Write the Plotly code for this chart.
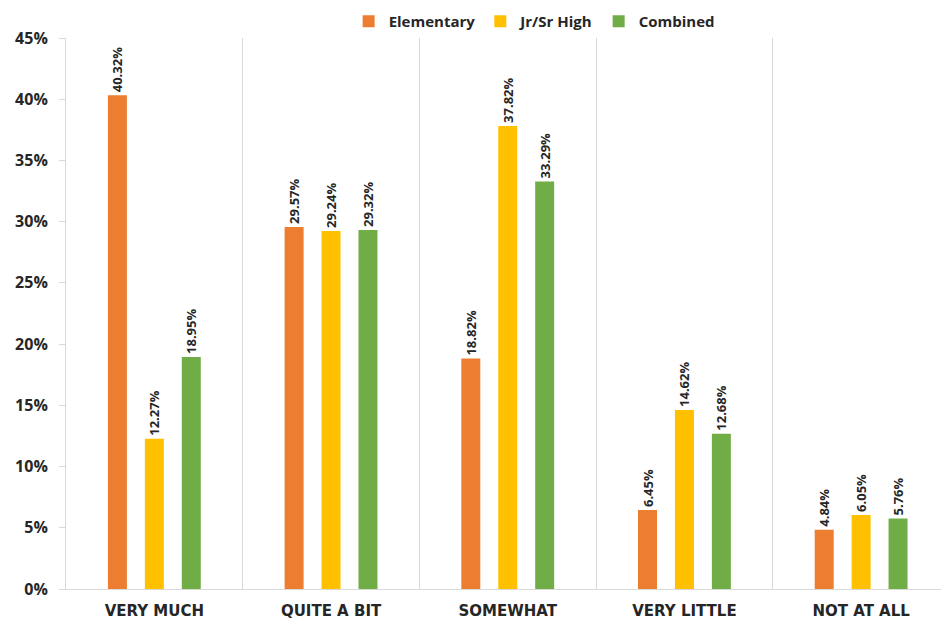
import plotly.graph_objects as go

categories = ["VERY MUCH", "QUITE A BIT", "SOMEWHAT", "VERY LITTLE", "NOT AT ALL"]
elementary = [40.32, 29.57, 18.82, 6.45, 4.84]
jrsr_high = [12.27, 29.24, 37.82, 14.62, 6.05]
combined = [18.95, 29.32, 33.29, 12.68, 5.76]
series_names = ["Elementary", "Jr/Sr High", "Combined"]
colors = ["#ED7D31", "#FFC000", "#70AD47"]
ytick_vals = [0, 5, 10, 15, 20, 25, 30, 35, 40, 45]

FONT = "Open Sans"
fig = go.Figure()
for name, vals, col in zip(series_names, [elementary, jrsr_high, combined], colors):
    fig.add_trace(go.Bar(
        x=categories, y=vals, name=name, marker=dict(color=col, line=dict(width=0)),
        text=[f"{v:.2f}%" for v in vals], textposition="outside", textangle=-90,
        constraintext="none",
        textfont=dict(family=FONT, size=13, color="#262626", weight="bold"),
        cliponaxis=False,
    ))

fig.update_layout(
    width=941, height=625,
    margin=dict(l=66, r=0, t=38, b=36),
    paper_bgcolor="white", plot_bgcolor="white",
    barmode="group", bargap=0.373, bargroupgap=0.486,
    showlegend=True,
    legend=dict(orientation="h", x=0.535, xanchor="center", y=1.0, yanchor="bottom",
                font=dict(family=FONT, size=15, color="#262626", weight="bold"),
                itemwidth=30, traceorder="normal"),
    xaxis=dict(type="category", tickson="boundaries", showgrid=True, gridcolor="#D9D9D9",
               showline=True, linecolor="#D9D9D9", ticks="", range=[-0.5, 4.452],
               ticklabelstandoff=8,
               tickfont=dict(family="DejaVu Sans", size=15, color="#262626", weight="bold")),
    yaxis=dict(range=[0, 45], tickvals=ytick_vals, ticktext=[f"{v}%" for v in ytick_vals],
               showgrid=False, showline=True, linecolor="#D9D9D9", ticks="outside",
               ticklen=6, tickcolor="#D9D9D9", zeroline=False, ticklabelstandoff=8,
               tickfont=dict(family=FONT, size=16, color="#262626", weight="bold")),
)
fig.write_html("out.html")
